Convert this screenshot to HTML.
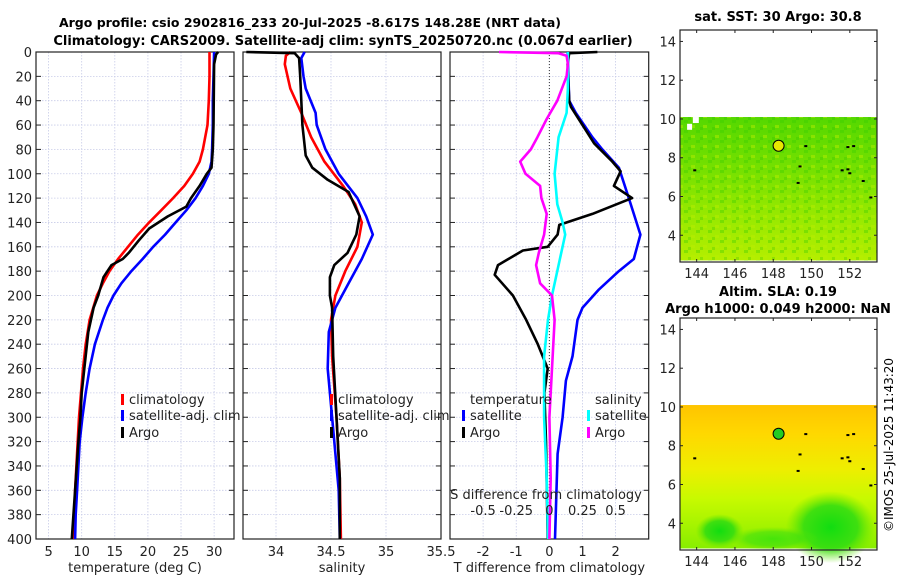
<!DOCTYPE html>
<html><head><meta charset="utf-8">
<style>
html,body{margin:0;padding:0;background:#fff;}
svg{display:block;font-family:"DejaVu Sans","Liberation Sans",sans-serif;}
</style></head>
<body>
<svg id="fig" width="900" height="580" viewBox="0 0 900 580" xmlns="http://www.w3.org/2000/svg">
<defs>
<linearGradient id="sstGrad" x1="0" y1="0" x2="0" y2="1">
<stop offset="0" stop-color="#55d800"/><stop offset="0.35" stop-color="#74e000"/><stop offset="0.65" stop-color="#94e800"/><stop offset="1" stop-color="#b4ee00"/>
</linearGradient>
<pattern id="sstTex" width="12" height="10" patternUnits="userSpaceOnUse">
<rect x="0" y="0" width="4" height="3" fill="#33cc00" opacity="0.35"/>
<rect x="7" y="5" width="4" height="3" fill="#bbee00" opacity="0.45"/>
<rect x="4" y="7" width="3" height="3" fill="#22bb00" opacity="0.25"/>
</pattern>
<linearGradient id="slaGrad" x1="0" y1="0" x2="0" y2="1">
<stop offset="0" stop-color="#ffc400"/><stop offset="0.2" stop-color="#ffd800"/><stop offset="0.45" stop-color="#eeee00"/><stop offset="0.65" stop-color="#c8fa00"/><stop offset="1" stop-color="#88ee00"/>
</linearGradient>
<radialGradient id="blob1"><stop offset="0" stop-color="#11dd11"/><stop offset="0.6" stop-color="#33dd11" stop-opacity="0.9"/><stop offset="1" stop-color="#66e600" stop-opacity="0"/></radialGradient>
</defs>
<g id="titles">
<text x="310" y="27" text-anchor="middle" font-size="12.5" font-weight="bold">Argo profile: csio 2902816_233 20-Jul-2025 -8.617S 148.28E (NRT data)</text>
<text x="343" y="45" text-anchor="middle" font-size="13" font-weight="bold">Climatology: CARS2009. Satellite-adj clim: synTS_20250720.nc (0.067d earlier)</text>
<text x="778" y="21" text-anchor="middle" font-size="13" font-weight="bold">sat. SST: 30 Argo: 30.8</text>
<text x="778" y="296" text-anchor="middle" font-size="13" font-weight="bold">Altim. SLA: 0.19</text>
<text x="778" y="313" text-anchor="middle" font-size="13" font-weight="bold">Argo h1000: 0.049 h2000: NaN</text>
<text transform="translate(893,445) rotate(-90)" text-anchor="middle" font-size="12">©IMOS 25-Jul-2025 11:43:20</text>
</g>
</svg>
<script>
// ---- data (depth in m) ----
const tempClimDepth = [0,20,40,60,80,90,100,110,120,130,140,150,160,170,180,190,200,220,240,260,280,300,320,340,360,380,400];
const tempClimVal   = [29.3,29.3,29.2,29.0,28.3,27.8,26.8,25.5,23.8,22,20.2,18.5,17,15.5,14.2,13.2,12.3,11.2,10.6,10.2,9.9,9.6,9.4,9.2,9.0,8.9,8.8];
const tempSatDepth  = [0,20,40,60,80,90,100,110,120,130,140,150,160,170,180,190,200,210,220,240,260,280,300,320,340,360,380,400];
const tempSatVal    = [30.0,29.9,29.8,29.8,29.7,29.6,29.2,28.3,27.2,25.8,24.2,22.6,20.8,19.2,17.5,16.0,14.8,13.9,13.2,12.0,11.2,10.6,10.1,9.7,9.5,9.3,9.1,9.0];
const tempArgoDepth = [0,2,10,60,80,95,100,110,120,127,135,145,155,165,170,175,180,185,200,210,230,260,280,300,320,360,400];
const tempArgoVal   = [30.6,30.3,30.0,29.9,29.8,29.6,28.9,27.8,26.5,25.8,23,20.2,18.6,17.1,16.2,14.5,13.9,13.3,12.5,11.8,11.0,10.4,10.0,9.8,9.5,9.0,8.5];

const salClimDepth = [0,3,10,30,50,70,90,110,125,140,160,180,200,220,250,300,350,400];
const salClimVal   = [34.13,34.09,34.08,34.13,34.23,34.32,34.44,34.61,34.72,34.78,34.74,34.63,34.54,34.50,34.51,34.55,34.58,34.59];
const salSatDepth  = [0,5,20,30,50,60,80,100,120,135,150,170,190,210,230,260,290,320,360,400];
const salSatVal    = [34.26,34.23,34.25,34.27,34.36,34.37,34.45,34.57,34.74,34.82,34.88,34.78,34.66,34.54,34.48,34.47,34.50,34.53,34.57,34.58];
const salArgoDepth = [0,1,5,20,60,85,95,105,115,135,150,165,175,185,200,210,250,300,350,400];
const salArgoVal   = [33.73,34.17,34.21,34.22,34.24,34.27,34.33,34.47,34.66,34.76,34.73,34.65,34.53,34.49,34.49,34.51,34.52,34.55,34.58,34.58];

const dTSatDepth  = [0,40,50,70,80,95,120,150,170,180,195,210,220,250,270,300,330,400];
const dTSatVal    = [0.55,0.6,0.8,1.3,1.6,2.1,2.4,2.75,2.55,2.1,1.5,1.0,0.85,0.7,0.5,0.4,0.25,0.17];
const dTArgoDepth = [0,1,10,40,45,60,75,90,98,110,120,133,142,150,160,163,175,183,200,220,240,260,280,320,400];
const dTArgoVal   = [1.45,0.6,0.55,0.6,0.65,1.0,1.35,1.9,2.15,1.95,2.5,1.3,0.3,0.25,-0.05,-0.8,-1.55,-1.65,-1.1,-0.7,-0.35,-0.05,-0.15,-0.1,-0.05];
const dSSatDepth  = [0,5,30,50,70,100,125,140,150,170,200,220,250,300,350,400];
const dSSatVal    = [0.14,0.14,0.14,0.13,0.07,0.04,0.06,0.1,0.12,0.08,0.02,-0.01,-0.04,-0.04,-0.02,-0.01];
const dSArgoDepth = [0,1,3,10,20,40,55,70,80,90,100,110,120,133,150,165,175,190,200,220,260,300,350,400];
const dSArgoVal   = [-0.38,0.07,0.13,0.14,0.13,0.06,-0.02,-0.09,-0.14,-0.22,-0.18,-0.07,-0.06,-0.02,-0.04,-0.08,-0.1,-0.07,0.02,0.04,0.02,0.0,0.01,0.0];

const depthTicks = [0,20,40,60,80,100,120,140,160,180,200,220,240,260,280,300,320,340,360,380,400];
const tempTicks = [5,10,15,20,25,30];
const salTicks = [34,34.5,35,35.5];
const dTTicks = [-2,-1,0,1,2];
const dSTicks = [-0.5,-0.25,0,0.25,0.5];
const lonTicks = [144,146,148,150,152];
const latTicks = [4,6,8,10,12,14];
const argoLon = [148.28];
const argoLat = [8.617];
const mapDots = [[143.9,7.35],[149.7,8.6],[151.9,8.55],[152.2,8.6],[149.4,7.55],[151.6,7.35],[151.9,7.4],[152,7.2],[152.7,6.8],[149.3,6.7],[153.1,5.95]];

const NS = "http://www.w3.org/2000/svg";
const svg = document.getElementById('fig');
function el(tag, attrs, parent) {
  const e = document.createElementNS(NS, tag);
  for (const k in attrs) e.setAttribute(k, attrs[k]);
  (parent || svg).appendChild(e);
  return e;
}
const Y0 = 52, Y1 = 539;
const yD = d => Y0 + (d / 400) * (Y1 - Y0);
function lin(d0, d1, r0, r1) { return v => r0 + (v - d0) / (d1 - d0) * (r1 - r0); }

function panel(name, x0, x1, xs, xTicks, xLabelFmt, showYLabels, xTitle) {
  const g = el('g', {});
  
  
  depthTicks.forEach(d => {
    const l = el('line', {x1: x0, x2: x1, y1: yD(d), y2: yD(d), stroke: '#c8cce8', 'stroke-width': 0.8, 'stroke-dasharray': '1.5,1.5'}, g);
    
    
    el('line', {x1: x0, x2: x0 + 5, y1: yD(d), y2: yD(d), stroke: '#222'}, g);
    el('line', {x1: x1 - 5, x2: x1, y1: yD(d), y2: yD(d), stroke: '#222'}, g);
    if (showYLabels) {
      const t = el('text', {x: x0 - 4, y: yD(d) + 5, 'text-anchor': 'end', 'font-size': 13, fill: '#222'}, g);
      t.textContent = d;
      
      
    }
  });
  xTicks.forEach(v => {
    const x = xs(v);
    if (x > x0 + 1 && x < x1 - 1) {
      const l = el('line', {x1: x, x2: x, y1: Y0, y2: Y1, stroke: '#c8cce8', 'stroke-width': 0.8, 'stroke-dasharray': '1.5,1.5'}, g);
      
      
    }
    const t = el('text', {x: x, y: 556, 'text-anchor': 'middle', 'font-size': 13, fill: '#222'}, g);
    t.textContent = xLabelFmt(v);
    
    
  });
  const r = el('rect', {x: x0, y: Y0, width: x1 - x0, height: Y1 - Y0, fill: 'none', stroke: '#222', 'stroke-width': 1.2}, g);
  
  
  const t = el('text', {x: (x0 + x1) / 2, y: 572, 'text-anchor': 'middle', 'font-size': 13, fill: '#222'}, g);
  t.textContent = xTitle;
  
  
  return g;
}
function series(g, name, depths, vals, xs, color) {
  const pts = depths.map((d, i) => xs(vals[i]).toFixed(1) + ',' + yD(d).toFixed(1)).join(' ');
  const p = el('polyline', {points: pts, fill: 'none', stroke: color, 'stroke-width': 2.6, 'stroke-linejoin': 'round'}, g);
  
  
}
function legendEntry(g, name, x, y, color, label) {
  const m = el('rect', {x: x, y: y - 6, width: 3, height: 11, fill: color}, g);
  
  
  const t = el('text', {x: x + 8, y: y + 4, 'font-size': 13, fill: '#222'}, g);
  t.textContent = label;
  
  
}

// Panel 1: temperature
const xT = lin(3.1, 33.0, 36, 234);
const g1 = panel('temperature-panel', 36, 234, xT, tempTicks, v => v, true, 'temperature (deg C)');
series(g1, 'temperature-climatology-line', tempClimDepth, tempClimVal, xT, '#ff0000');
series(g1, 'temperature-satellite-line', tempSatDepth, tempSatVal, xT, '#0000ff');
series(g1, 'temperature-argo-line', tempArgoDepth, tempArgoVal, xT, '#000000');
legendEntry(g1, 'legend-climatology', 121, 400, '#ff0000', 'climatology');
legendEntry(g1, 'legend-satellite-adj-clim', 121, 416, '#0000ff', 'satellite-adj. clim');
legendEntry(g1, 'legend-argo', 121, 433, '#000000', 'Argo');

// Panel 2: salinity
const xS = lin(33.7, 35.5, 243, 441);
const g2 = panel('salinity-panel', 243, 441, xS, salTicks, v => v, false, 'salinity');
series(g2, 'salinity-climatology-line', salClimDepth, salClimVal, xS, '#ff0000');
series(g2, 'salinity-satellite-line', salSatDepth, salSatVal, xS, '#0000ff');
series(g2, 'salinity-argo-line', salArgoDepth, salArgoVal, xS, '#000000');
legendEntry(g2, 'legend-climatology-2', 330, 400, '#ff0000', 'climatology');
legendEntry(g2, 'legend-satellite-adj-clim-2', 330, 416, '#0000ff', 'satellite-adj. clim');
legendEntry(g2, 'legend-argo-2', 330, 433, '#000000', 'Argo');

// Panel 3: differences
const xD = lin(-3, 3, 450, 648.7);
const xDS = v => xD(v * 4);
const g3 = panel('difference-panel', 450, 648.7, xD, dTTicks, v => v, false, 'T difference from climatology');
const zl = el('line', {x1: xD(0), x2: xD(0), y1: Y0, y2: Y1, stroke: '#333', 'stroke-width': 1, 'stroke-dasharray': '1,2'}, g3);


series(g3, 'T-diff-satellite-line', dTSatDepth, dTSatVal, xD, '#0000ff');
series(g3, 'T-diff-argo-line', dTArgoDepth, dTArgoVal, xD, '#000000');
series(g3, 'S-diff-satellite-line', dSSatDepth, dSSatVal, xDS, '#00ffff');
series(g3, 'S-diff-argo-line', dSArgoDepth, dSArgoVal, xDS, '#ff00ff');
const th = el('text', {x: 470, y: 404, 'font-size': 13, fill: '#222'}, g3);
th.textContent = 'temperature';


const sh = el('text', {x: 595, y: 404, 'font-size': 13, fill: '#222'}, g3);
sh.textContent = 'salinity';


legendEntry(g3, 'legend-T-satellite', 462, 416, '#0000ff', 'satellite');
legendEntry(g3, 'legend-T-argo', 462, 433, '#000000', 'Argo');
legendEntry(g3, 'legend-S-satellite', 587, 416, '#00ffff', 'satellite');
legendEntry(g3, 'legend-S-argo', 587, 433, '#ff00ff', 'Argo');
const st = el('text', {x: 546, y: 499, 'text-anchor': 'middle', 'font-size': 13, fill: '#222'}, g3);
st.textContent = 'S difference from climatology';


dSTicks.forEach(v => {
  const t = el('text', {x: xDS(v), y: 515, 'text-anchor': 'middle', 'font-size': 13, fill: '#222'}, g3);
  t.textContent = v;
  
  
});

// Maps
function mapPanel(name, top, bottom, fillId, dotColor, extraFn) {
  const g = el('g', {});
  
  
  const x0 = 680, x1 = 877;
  const mx = lin(143.13, 153.42, x0, x1);
  const my = lin(2.62, 14.59, bottom, top);
  const img = el('rect', {x: x0, y: my(10.1), width: x1 - x0, height: my(2.7) - my(10.1), fill: 'url(#' + fillId + ')'}, g);
  
  
  if (extraFn) extraFn(g, mx, my);
  mapDots.forEach(p => {
    const d = el('rect', {x: mx(p[0]) - 1.5, y: my(p[1]) - 1, width: 3, height: 2, fill: '#000'}, g);
    
    
  });
  const c = el('circle', {cx: mx(argoLon[0]), cy: my(argoLat[0]), r: 5.5, fill: dotColor, stroke: '#000', 'stroke-width': 1}, g);
  
  
  el('rect', {x: x0, y: top, width: x1 - x0, height: bottom - top, fill: 'none', stroke: '#222', 'stroke-width': 1.2}, g);
  lonTicks.forEach(v => {
    el('line', {x1: mx(v), x2: mx(v), y1: bottom, y2: bottom - 3, stroke: '#222'}, g);
    el('line', {x1: mx(v), x2: mx(v), y1: top, y2: top + 3, stroke: '#222'}, g);
    const t = el('text', {x: mx(v), y: bottom + 16, 'text-anchor': 'middle', 'font-size': 13, fill: '#222'}, g);
    t.textContent = v;
    
    
  });
  latTicks.forEach(v => {
    el('line', {x1: x0, x2: x0 + 3, y1: my(v), y2: my(v), stroke: '#222'}, g);
    el('line', {x1: x1, x2: x1 - 3, y1: my(v), y2: my(v), stroke: '#222'}, g);
    const t = el('text', {x: x0 - 4, y: my(v) + 5, 'text-anchor': 'end', 'font-size': 13, fill: '#222'}, g);
    t.textContent = v;
    
    
  });
}
mapPanel('sst-map', 30, 262, 'sstGrad', '#e8e800', (g, mx, my) => {
  el('rect', {x: mx(143.13), y: my(10.1), width: mx(153.42) - mx(143.13), height: my(2.7) - my(10.1), fill: 'url(#sstTex)'}, g);
  el('rect', {x: mx(143.8), y: my(10.1), width: 6, height: 6, fill: '#fff'}, g);
  el('rect', {x: mx(143.5), y: my(9.75), width: 5, height: 6, fill: '#fff'}, g);
});
mapPanel('sla-map', 318, 550, 'slaGrad', '#22cc22', (g, mx, my) => {
  el('ellipse', {cx: mx(151), cy: my(3.8), rx: 45, ry: 36, fill: 'url(#blob1)'}, g);
  el('ellipse', {cx: mx(145.2), cy: my(3.6), rx: 24, ry: 17, fill: 'url(#blob1)'}, g);
  el('ellipse', {cx: mx(148), cy: my(3.2), rx: 45, ry: 12, fill: 'url(#blob1)', opacity: 0.6}, g);
});
</script>
</body></html>
